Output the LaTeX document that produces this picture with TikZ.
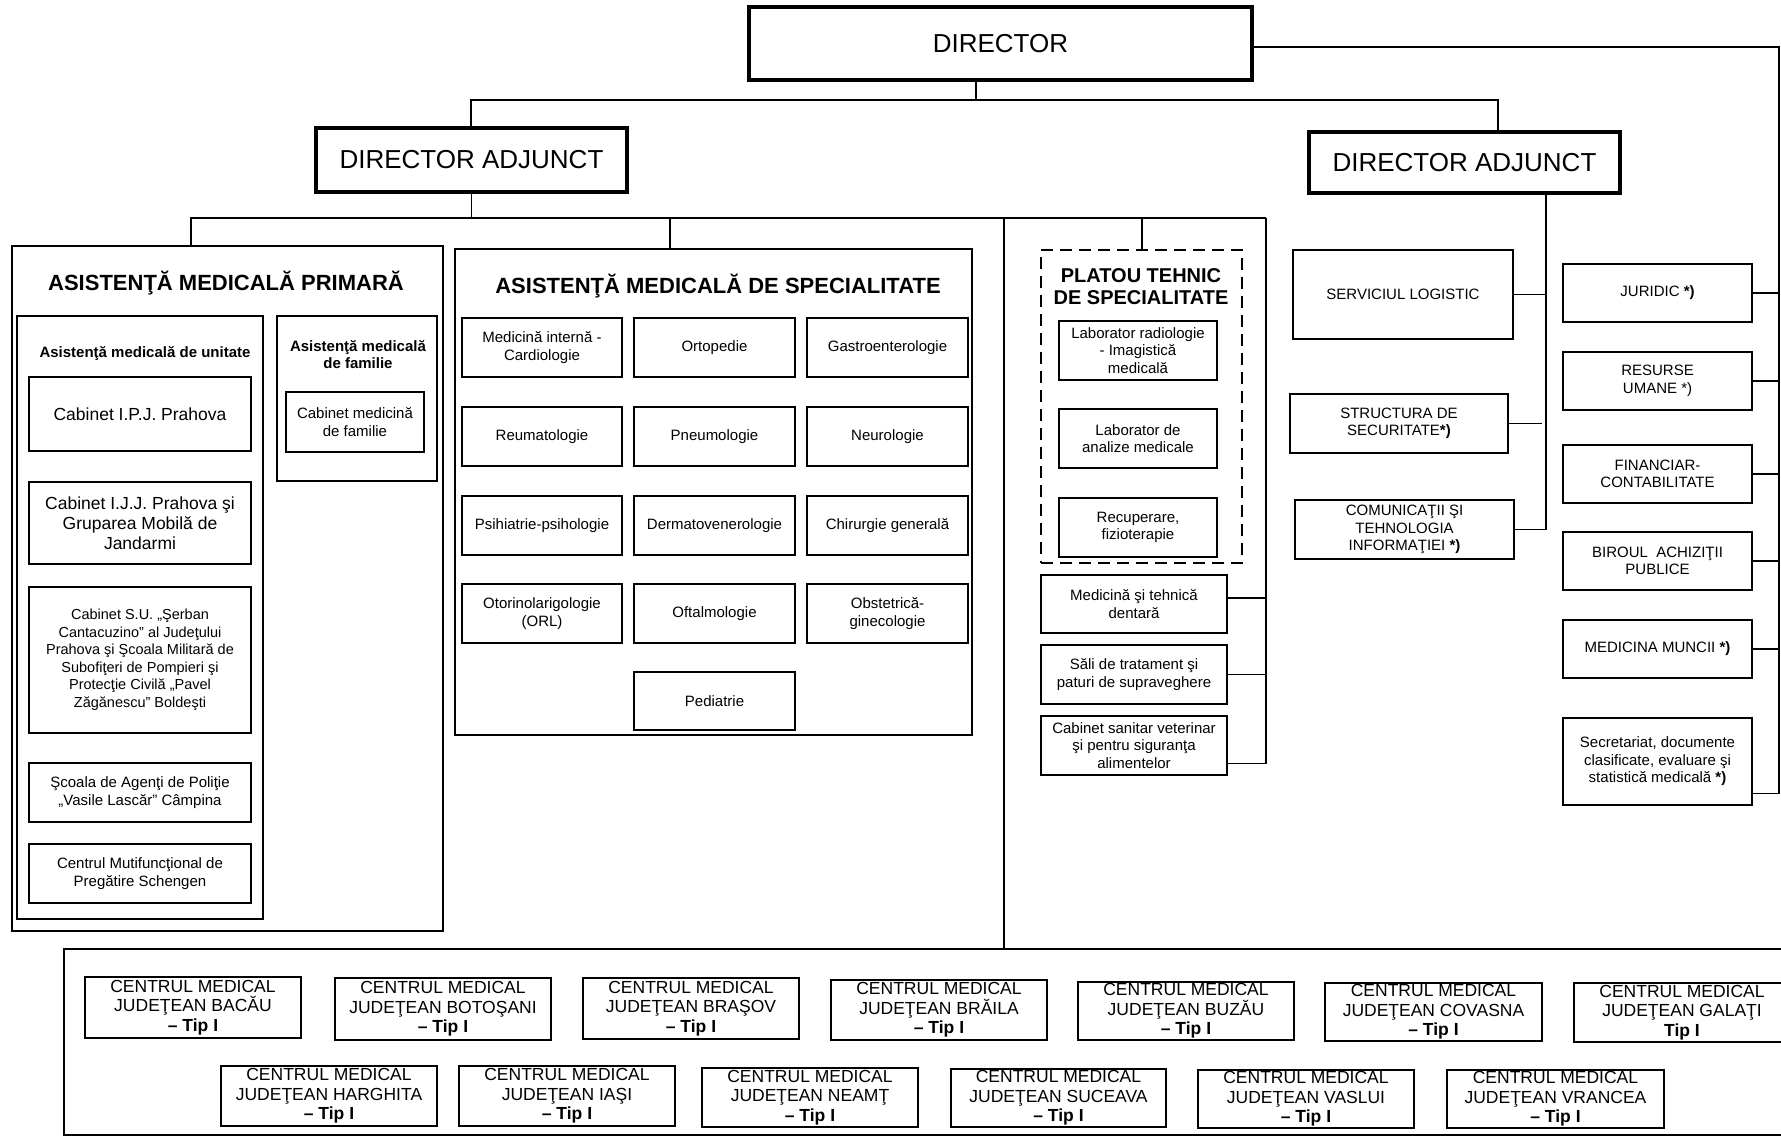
\documentclass[tikz,border=0pt]{standalone}
\usepackage{fontspec}
\setmainfont{Liberation Sans}
\newcommand\mybox[7][]{\node[box,#1,minimum width={(#5-#3)*1pt},minimum height={(#6-#4)*1pt}] (#2) at ({(#3+#5)/2},{(#4+#6)/2}) {#7};}
\begin{document}
\begin{tikzpicture}[x=1pt,y=-1pt,
 box/.style={draw, line width=1.6pt, align=center, inner sep=0pt, font=\fontsize{15}{17.5}\selectfont},
 big/.style={line width=4pt, font=\fontsize{26}{30}\selectfont},
 cmed/.style={font=\fontsize{17.5}{19.5}\selectfont},
 mid/.style={font=\fontsize{17.5}{20}\selectfont},
 small/.style={font=\fontsize{14.5}{17.5}\selectfont},
 title/.style={align=center, inner sep=0pt, font=\bfseries\fontsize{22}{26}\selectfont},
 subtitle/.style={align=center, inner sep=0pt, font=\bfseries\fontsize{15}{17}\selectfont},
 conn/.style={line width=1.6pt},
 dbox/.style={dash pattern=on 12pt off 7pt, line width=1.8pt}]
\useasboundingbox (0,0) rectangle (1781,1137);
\fill[white] (0,0) rectangle (1781,1137);
\clip (0,0) rectangle (1781,1137);

% top level
\mybox[big]{dir}{749}{7}{1252}{80}{DIRECTOR}
\mybox[big]{da1}{316}{128}{627}{192}{DIRECTOR ADJUNCT}
\mybox[big]{da2}{1309}{132}{1620}{193}{DIRECTOR ADJUNCT}

% primary
\mybox{prim}{12}{246}{443}{931}{}
\node[title] (tprim) at (226,283) {ASISTENŢĂ MEDICALĂ PRIMARĂ};
\mybox{unit}{17}{316}{263}{919}{}
\node[subtitle] (tunit) at (145,354) {Asistenţă medicală de unitate};
\mybox{fam}{277}{316}{437}{481}{}
\node[subtitle] (tfam) at (358,355) {Asistenţă medicală\\de familie};
\mybox[mid]{ipj}{29}{377}{251}{451}{Cabinet I.P.J. Prahova}
\mybox[mid]{ijj}{29}{482}{251}{564}{Cabinet I.J.J. Prahova şi\\Gruparea Mobilă de\\Jandarmi}
\mybox[small]{su}{29}{587}{251}{733}{Cabinet S.U. „Şerban\\Cantacuzino” al Judeţului\\Prahova şi Şcoala Militară de\\Subofiţeri de Pompieri şi\\Protecţie Civilă „Pavel\\Zăgănescu” Boldeşti}
\mybox{scoala}{29}{763}{251}{822}{Şcoala de Agenţi de Poliţie\\„Vasile Lascăr” Câmpina}
\mybox{schen}{29}{844}{251}{903}{Centrul Mutifuncţional de\\Pregătire Schengen}
\mybox{cmf}{286}{392}{424}{452}{Cabinet medicină\\de familie}

% specialitate
\mybox{spec}{455}{249}{972}{735}{}
\node[title] (tspec) at (718,286) {ASISTENŢĂ MEDICALĂ DE SPECIALITATE};
\mybox{s11}{462}{318}{622}{377}{Medicină internă -\\Cardiologie}
\mybox{s12}{634}{318}{795}{377}{Ortopedie}
\mybox{s13}{807}{318}{968}{377}{Gastroenterologie}
\mybox{s21}{462}{407}{622}{466}{Reumatologie}
\mybox{s22}{634}{407}{795}{466}{Pneumologie}
\mybox{s23}{807}{407}{968}{466}{Neurologie}
\mybox{s31}{462}{496}{622}{555}{Psihiatrie-psihologie}
\mybox{s32}{634}{496}{795}{555}{Dermatovenerologie}
\mybox{s33}{807}{496}{968}{555}{Chirurgie generală}
\mybox{s41}{462}{584}{622}{643}{Otorinolarigologie\\(ORL)}
\mybox{s42}{634}{584}{795}{643}{Oftalmologie}
\mybox{s43}{807}{584}{968}{643}{Obstetrică-\\ginecologie}
\mybox{s52}{634}{672}{795}{730}{Pediatrie}

% platou
\mybox[dbox]{plat}{1041}{250}{1242}{563}{}
\node[title, font=\bfseries\fontsize{20}{22}\selectfont] (tplat) at (1141,287) {PLATOU TEHNIC\\DE SPECIALITATE};
\mybox{lab1}{1059}{321}{1217}{380}{Laborator radiologie\\- Imagistică\\medicală}
\mybox{lab2}{1059}{409}{1217}{468}{Laborator de\\analize medicale}
\mybox{recup}{1059}{498}{1217}{557}{Recuperare,\\fizioterapie}
\mybox{dent}{1041}{575}{1227}{633}{Medicină şi tehnică\\dentară}
\mybox{sali}{1041}{645}{1227}{704}{Săli de tratament şi\\paturi de supraveghere}
\mybox{sanit}{1041}{716}{1227}{775}{Cabinet sanitar veterinar\\şi pentru siguranţa\\alimentelor}

% second deputy column
\mybox{serv}{1293}{250}{1513}{339}{SERVICIUL LOGISTIC}
\mybox{struct}{1290}{394}{1508}{453}{STRUCTURA DE\\SECURITATE\textbf{*)}}
\mybox{comm}{1295}{500}{1514}{559}{COMUNICAŢII ŞI\\TEHNOLOGIA\\INFORMAŢIEI \textbf{*)}}

% director column
\mybox{jur}{1563}{264}{1752}{322}{JURIDIC \textbf{*)}}
\mybox{res}{1563}{352}{1752}{410}{RESURSE\\UMANE *)}
\mybox{fin}{1563}{445}{1752}{503}{FINANCIAR-\\CONTABILITATE}
\mybox{bir}{1563}{532}{1752}{590}{BIROUL\ \ ACHIZIŢII\\PUBLICE}
\mybox{medm}{1563}{620}{1752}{678}{MEDICINA MUNCII \textbf{*)}}
\mybox{secr}{1563}{718}{1752}{805}{Secretariat, documente\\clasificate, evaluare şi\\statistică medicală \textbf{*)}}

% bottom
\mybox{cmbox}{64}{949}{1800}{1135}{}
\mybox[cmed]{bac}{85}{977}{301}{1038}{CENTRUL MEDICAL\\JUDEŢEAN BACĂU\\\textbf{– Tip I}}
\mybox[cmed]{bot}{335}{978}{551}{1040}{CENTRUL MEDICAL\\JUDEŢEAN BOTOŞANI\\\textbf{– Tip I}}
\mybox[cmed]{bra}{583}{978}{799}{1039}{CENTRUL MEDICAL\\JUDEŢEAN BRAŞOV\\\textbf{– Tip I}}
\mybox[cmed]{brl}{831}{980}{1047}{1040}{CENTRUL MEDICAL\\JUDEŢEAN BRĂILA\\\textbf{– Tip I}}
\mybox[cmed]{buz}{1078}{982}{1294}{1040}{CENTRUL MEDICAL\\JUDEŢEAN BUZĂU\\\textbf{– Tip I}}
\mybox[cmed]{cov}{1325}{983}{1542}{1041}{CENTRUL MEDICAL\\JUDEŢEAN COVASNA\\\textbf{– Tip I}}
\mybox[cmed]{gal}{1574}{983}{1790}{1042}{CENTRUL MEDICAL\\JUDEŢEAN GALAŢI\\\textbf{Tip I}}
\mybox[cmed]{har}{221}{1066}{437}{1126}{CENTRUL MEDICAL\\JUDEŢEAN HARGHITA\\\textbf{– Tip I}}
\mybox[cmed]{ias}{459}{1066}{675}{1126}{CENTRUL MEDICAL\\JUDEŢEAN IAŞI\\\textbf{– Tip I}}
\mybox[cmed]{nea}{702}{1068}{918}{1127}{CENTRUL MEDICAL\\JUDEŢEAN NEAMŢ\\\textbf{– Tip I}}
\mybox[cmed]{suc}{951}{1069}{1166}{1127}{CENTRUL MEDICAL\\JUDEŢEAN SUCEAVA\\\textbf{– Tip I}}
\mybox[cmed]{vas}{1198}{1070}{1414}{1128}{CENTRUL MEDICAL\\JUDEŢEAN VASLUI\\\textbf{– Tip I}}
\mybox[cmed]{vra}{1447}{1070}{1664}{1128}{CENTRUL MEDICAL\\JUDEŢEAN VRANCEA\\\textbf{– Tip I}}

% connectors
\coordinate (j0) at (976,100);
\coordinate (j1) at (471,100);
\coordinate (j2) at (1498,100);
\draw[conn] (j0 |- dir.south) -- (j0);
\draw[conn] (j1 |- da1.north) -- (j1) -- (j2) -- (j2 |- da2.north);
\coordinate (rb) at (1779,47);
\coordinate (secrc) at ([yshift=-32pt]secr.east);
\draw[conn] (dir.east |- rb) -- (rb) -- (rb |- secrc) -- (secrc);
\foreach \n in {jur,res,fin,bir,medm} \draw[conn] (\n.east) -- (\n.east -| rb);

\coordinate (b1) at (191,218);
\coordinate (b2) at (670,218);
\coordinate (b3) at (1004,218);
\coordinate (b4) at (1142,218);
\coordinate (b5) at (1266,218);
\draw[conn] (da1.south) -- (da1.south |- b1);
\draw[conn] (b1 |- prim.north) -- (b1) -- (b5);
\draw[conn] (b2) -- (b2 |- spec.north);
\draw[conn] (b3) -- (b3 |- cmbox.north);
\draw[conn] (b4) -- (b4 |- plat.north);
\coordinate (sanc) at ([yshift=-18pt]sanit.east);
\coordinate (dentc) at ([yshift=6pt]dent.east);
\draw[conn] (b5) -- (b5 |- sanc) -- (sanc);
\draw[conn] (dentc) -- (dentc -| b5);
\draw[conn] (sali.east) -- (sali.east -| b5);

\coordinate (b6) at (1546,193);
\draw[conn] (b6 |- da2.south) -- (b6 |- comm.east) -- (comm.east);
\draw[conn] (serv.east) -- (serv.east -| b6);
\draw[conn] (struct.east) -- ++(33,0);
\end{tikzpicture}
\end{document}
